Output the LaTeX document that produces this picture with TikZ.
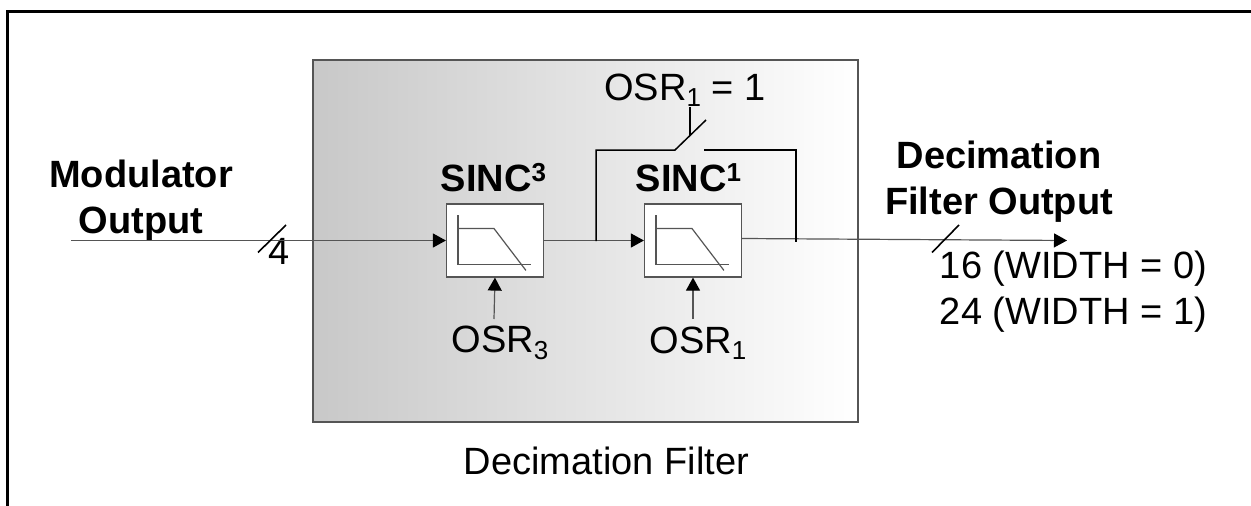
\documentclass[tikz,border=0pt]{standalone}
\usepackage{fontspec}
\setmainfont{Liberation Sans}
\usepackage{xcolor}
\usetikzlibrary{arrows.meta,positioning}
\definecolor{shadegray}{HTML}{C8C8C8}
\definecolor{linegray}{HTML}{555555}
\newcommand{\highdigit}[1]{\raisebox{10.5pt}{\fontsize{26}{26}\selectfont #1}}
\newcommand{\lowdigit}[1]{\raisebox{-6.5pt}{\fontsize{26}{26}\selectfont #1}}
\tikzset{
  x=1pt,y=-1pt,
  sigarrow/.style={-{Triangle[length=13pt,width=14pt,black]},draw=linegray,line width=1.2pt},
  sigline/.style={draw=linegray,line width=1.2pt},
  bypass/.style={draw=black,line width=1.5pt},
  slash/.style={draw=black,line width=1.6pt},
  filterbox/.style={draw=linegray,line width=1.2pt,fill=white,minimum width=97pt,minimum height=73pt,inner sep=0pt},
  plainlabel/.style={font=\fontsize{38}{46}\selectfont,inner sep=0pt,align=center},
  boldlabel/.style={font=\fontsize{38}{46}\selectfont\bfseries,inner sep=0pt,align=center},
}
\begin{document}
\begin{tikzpicture}
    \useasboundingbox (0,0) rectangle (1251,506);
    \draw[line width=3pt] (7,506)--(7,11)--(1251,11);
    \node[draw=linegray,line width=1.2pt,left color=shadegray,right color=white,minimum width=545pt,minimum height=362pt,inner sep=0pt] (filter) at (585.5,241) {};
    \node[plainlabel] (filterlabel) at (606.5,461) {Decimation Filter};
    % blocks
    \node[filterbox] (sinca) at (495,240.5) {};
    \node[filterbox] (sincb) at (693,240.5) {};
    \node[boldlabel,above=11pt of sinca,xshift=-1.5pt] (sincalabel) {SINC\highdigit{3}};
    \node[boldlabel,above=11pt of sincb,xshift=-4.5pt] (sincblabel) {SINC\highdigit{1}};
    \foreach \blk in {sinca,sincb} {
      \draw[sigline] ([shift={(12,12)}]\blk.north west)--([shift={(12,61)}]\blk.north west)--([shift={(85,61)}]\blk.north west);
      \draw[sigline] ([shift={(12,25)}]\blk.north west)--([shift={(48,25)}]\blk.north west)--([shift={(80,67)}]\blk.north west);
    }
    % signal path
    \node[boldlabel] (modlabel) at (141,200.5) {Modulator\\Output};
    \node[boldlabel] (outlabel) at (999,182) {Decimation\\Filter Output};
    \node[plainlabel] (widthlabel) at (1073.5,291.5) {16 (WIDTH = 0)\\24 (WIDTH = 1)};
    \node[plainlabel] (fourlabel) at (279.5,251) {4};
    \coordinate (modin) at (71,240.5);
    \coordinate (outend) at (1067,240.5);
    \draw[sigarrow] (modin)--(sinca.west);
    \draw[sigarrow] (sinca.east)--(sincb.west);
    \draw[sigarrow] (sincb.east|-0,238.5) coordinate (outstart)--(outend);
    \draw[slash] (258,252.5)--(286,225);
    \draw[slash] (932,252.5)--(959,225);
    % bypass switch
    \coordinate (tapin) at (596,241);
    \coordinate (tapout) at (796,242);
    \coordinate (swleft) at (675,150);
    \coordinate (swtip) at (706,120);
    \coordinate (swright) at (704,150);
    \draw[bypass] (tapin)|-(swleft)--(swtip);
    \draw[bypass] (swright)-|(tapout);
    \node[plainlabel] (switchlabel) at (685,90) {OSR\lowdigit{1} = 1};
    \draw[bypass] (690,107)--(690,135);
    % rate inputs
    \node[plainlabel] (osra) at (500,343) {OSR\lowdigit{3}};
    \node[plainlabel] (osrb) at (698,343) {OSR\lowdigit{1}};
    \coordinate (ratea) at (494,319);
    \coordinate (rateb) at (693,319);
    \draw[sigarrow] (ratea)--(sinca.south);
    \draw[sigarrow] (rateb)--(sincb.south);
\end{tikzpicture}
\end{document}
